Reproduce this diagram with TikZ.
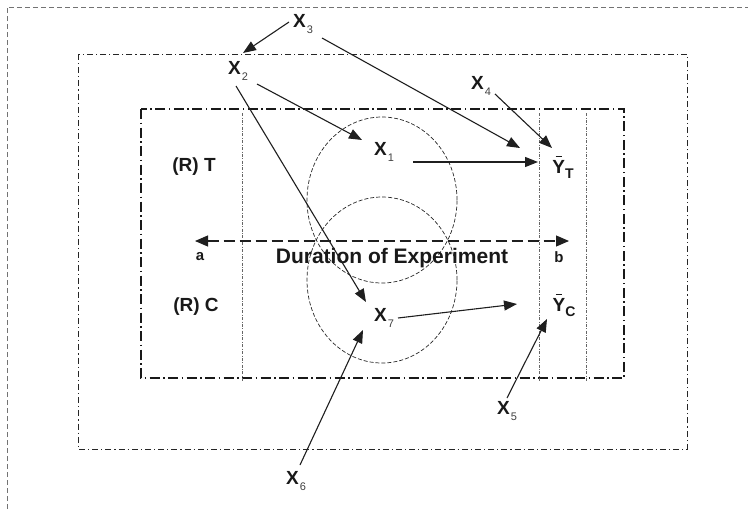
\documentclass[tikz,border=0pt]{standalone}
\usepackage{fontspec}
\setmainfont{Liberation Sans}
\usetikzlibrary{arrows.meta,calc}
\newcommand{\xsub}[2]{\textbf{#1}\hspace{1pt}\raisebox{-0.3em}{\fontsize{11}{11}\selectfont\mdseries\color{black!75}#2}}
\newcommand{\ybarsub}[1]{{\setbox0\hbox{\textbf{Y}}\rlap{\hbox to \wd0{\hss\raisebox{\dimexpr\ht0+4pt\relax}{\rule{0.5\wd0}{0.9pt}}\hss}}\box0}\raisebox{-0.25em}{\fontsize{14}{14}\selectfont\bfseries #1}}
\begin{document}
\begin{tikzpicture}[x=1pt,y=-1pt,
  lab/.style={font=\fontsize{19}{19}\selectfont\bfseries, inner sep=0pt, text=black!90},
  arr/.style={-{Triangle[length=13pt,width=10pt]}, line width=1.1pt, draw=black!88},
  frameout/.style={black!55, line width=0.8pt, dash pattern=on 5pt off 3pt},
  framemid/.style={black!85, line width=0.8pt, dash pattern=on 6pt off 3pt on 1.2pt off 3pt},
  frameinn/.style={black!90, line width=1.2pt, dash pattern=on 10pt off 3.5pt on 1.5pt off 3.5pt},
  divider/.style={black!60, line width=0.6pt, dash pattern=on 3pt off 1.5pt on 0.8pt off 1.5pt},
  blob/.style={black!85, line width=0.7pt, dash pattern=on 4pt off 2pt}]
\useasboundingbox (0,0) rectangle (748,509);
% frames
\draw[frameout] (7,509) -- (7,7) -- (748,7);
\draw[framemid] (78,54) rectangle (687,449);
\draw[frameinn] (141,109) rectangle (624,378);
\foreach \x in {242,539,586} \draw[divider] (\x,113) -- (\x,381);
% ellipses
\draw[blob] (382,200) ellipse [x radius=75pt, y radius=83pt];
\draw[blob] (382,280) ellipse [x radius=75pt, y radius=83pt];
% labels
\node[lab] (X3) at (303,24) {\xsub{X}{3}};
\node[lab] (X2) at (238,71) {\xsub{X}{2}};
\node[lab] (X1) at (384,152) {\xsub{X}{1}};
\node[lab] (X4) at (481,86) {\xsub{X}{4}};
\node[lab] (X7) at (384,318) {\xsub{X}{7}};
\node[lab] (X6) at (296,481) {\xsub{X}{6}};
\node[lab] (X5) at (507,411) {\xsub{X}{5}};
\node[lab] (YT) at (563,167) {\ybarsub{T}};
\node[lab] (YC) at (564,305) {\ybarsub{C}};
\node[lab] (RT) at (194,167) {(R) T};
\node[lab] (RC) at (196,307) {(R) C};
\node[lab, font=\fontsize{15}{15}\selectfont\bfseries] (a) at (200,257) {a};
\node[lab, font=\fontsize{15}{15}\selectfont\bfseries] (b) at (559,257) {b};
\node[lab, font=\fontsize{21}{21}\selectfont\bfseries] (dur) at (392,258) {Duration of Experiment};
% duration arrow
\draw[{Triangle[length=13pt,width=11pt]}-{Triangle[length=13pt,width=11pt]}, black!88, line width=1.1pt, dash pattern=on 11pt off 5pt]
  ($(a)+(-5,-16)$) -- ($(b)+(10,-16)$);
% arrows
\draw[arr] ($(X3)+(-14,-2)$) -- ($(X2)+(5,-18)$);
\draw[arr] ($(X3)+(19,14)$) -- ($(YT)+(-43,-19)$);
\draw[arr] ($(X2)+(19,13)$) -- ($(X1)+(-22,-12)$);
\draw[arr] ($(X2)+(-2,15)$) -- ($(X7)+(-18,-16)$);
\draw[arr] ($(X4)+(14,8)$) -- ($(YT)+(-11,-19)$);
\draw[arr] ($(X1)+(29,10)$) -- ($(YT)+(-25,-5)$);
\draw[arr] ($(X7)+(14,0)$) -- ($(YC)+(-47,-1)$);
\draw[arr] ($(X6)+(4,-16)$) -- ($(X7)+(-21,12)$);
\draw[arr] ($(X5)+(0,-13)$) -- ($(YC)+(-17,14)$);
\end{tikzpicture}
\end{document}
